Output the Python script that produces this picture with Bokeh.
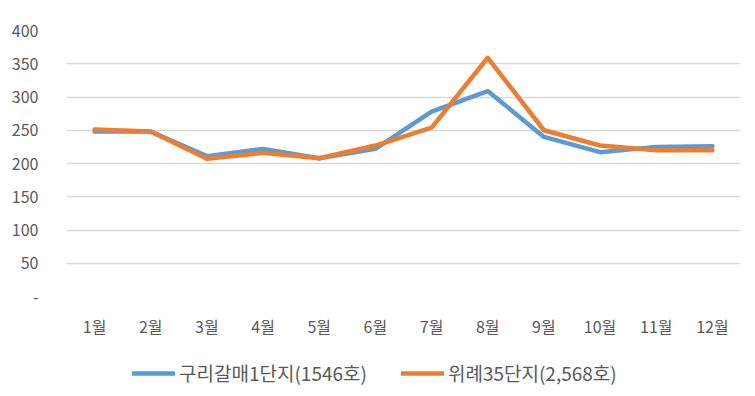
from bokeh.plotting import figure
from bokeh.models import FactorRange, Range1d, Legend, LegendItem, FixedTicker
from bokeh.layouts import column
from bokeh.embed import file_html
from bokeh.resources import INLINE

months = ["1월", "2월", "3월", "4월", "5월", "6월", "7월", "8월", "9월", "10월", "11월", "12월"]
guri = [248, 248, 211, 222, 208, 222, 278, 309, 240, 217, 225, 226]
wirye = [251, 248, 207, 216, 208, 227, 254, 359, 250, 227, 220, 220]
series_names = ["구리갈매1단지(1546호)", "위례35단지(2,568호)"]
y_ticks = [0, 50, 100, 150, 200, 250, 300, 350, 400]

FONT = "Noto Sans CJK KR"
BLUE = "#5B9BD5"
ORANGE = "#ED7D31"

# main chart
p = figure(width=747, height=342, x_range=FactorRange(*months), y_range=Range1d(0, 400),
           output_backend="svg", toolbar_location=None,
           min_border_left=66, min_border_right=7, min_border_top=30, min_border_bottom=46)
p.outline_line_color = None

p.line(months, guri, line_color=BLUE, line_width=4.5, line_join="round", line_cap="round")
p.line(months, wirye, line_color=ORANGE, line_width=4.5, line_join="round", line_cap="round")

p.xgrid.grid_line_color = None
p.ygrid.grid_line_color = "#D9D9D9"
p.ygrid.grid_line_width = 1.5
p.yaxis.ticker = FixedTicker(ticks=y_ticks)
p.yaxis.major_label_overrides = {0: "-"}

for ax in (p.xaxis, p.yaxis):
    ax.axis_line_color = None
    ax.major_tick_line_color = None
    ax.minor_tick_line_color = None
    ax.major_label_text_font = FONT
    ax.major_label_text_color = "#595959"
    ax.major_label_text_font_size = "16px"

p.xaxis.major_label_standoff = 11
p.yaxis.major_label_standoff = 22

# legend strip (same series, drawn outside its visible range so only the legend shows)
lg = figure(width=747, height=54, x_range=FactorRange(*months), y_range=Range1d(1000, 1001),
            output_backend="svg", toolbar_location=None,
            x_axis_location=None, y_axis_location=None,
            min_border_left=0, min_border_right=0, min_border_top=0, min_border_bottom=0)
lg.outline_line_color = None
lg.xgrid.grid_line_color = None
lg.ygrid.grid_line_color = None
l1 = lg.line(months, guri, line_color=BLUE, line_width=4.5, line_cap="round")
l2 = lg.line(months, wirye, line_color=ORANGE, line_width=4.5, line_cap="round")

legend = Legend(items=[LegendItem(label=series_names[0], renderers=[l1]),
                       LegendItem(label=series_names[1], renderers=[l2])],
                orientation="horizontal", location=(66, 10),
                label_text_font=FONT, label_text_font_size="19px", label_text_color="#595959",
                glyph_width=43, glyph_height=20, label_standoff=4, spacing=34,
                border_line_color=None, background_fill_alpha=0, margin=0, padding=0)
lg.add_layout(legend, "center")

open("out.html", "w").write(file_html(column(p, lg, spacing=0), INLINE))
